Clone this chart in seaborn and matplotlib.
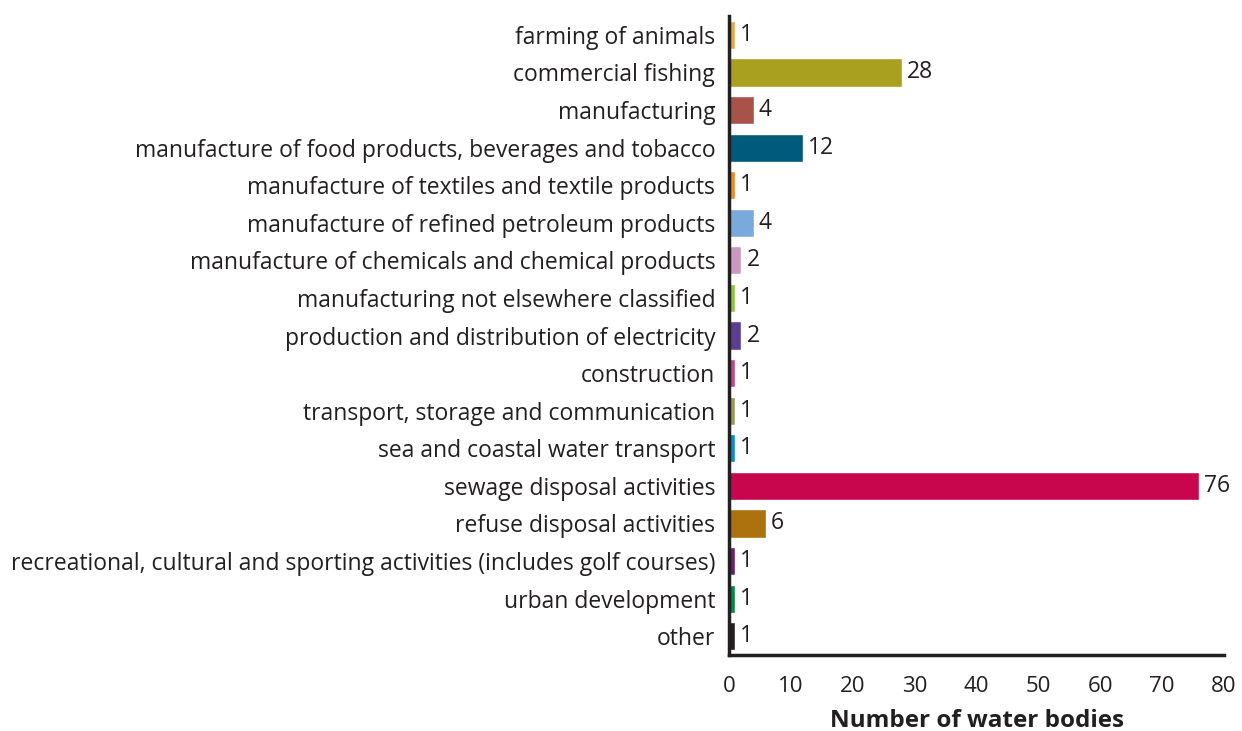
import pandas as pd
import matplotlib
matplotlib.use("Agg")
import matplotlib.pyplot as plt
import seaborn as sns

sns.set_theme(style="white")
plt.rcParams['font.family'] = ['Open Sans', 'DejaVu Sans']

# Pressure sources and number of water bodies affected
sources = [
    "farming of animals",
    "commercial fishing",
    "manufacturing",
    "manufacture of food products, beverages and tobacco",
    "manufacture of textiles and textile products",
    "manufacture of refined petroleum products",
    "manufacture of chemicals and chemical products",
    "manufacturing not elsewhere classified",
    "production and distribution of electricity",
    "construction",
    "transport, storage and communication",
    "sea and coastal water transport",
    "sewage disposal activities",
    "refuse disposal activities",
    "recreational, cultural and sporting activities (includes golf courses)",
    "urban development",
    "other",
]
counts = [1, 28, 4, 12, 1, 4, 2, 1, 2, 1, 1, 1, 76, 6, 1, 1, 1]
colors = [
    "#E0A84A", "#A8A01E", "#A8524A", "#005A7C", "#F08A1E", "#7AAADC",
    "#CC98C0", "#8CC63F", "#5A3E96", "#C0468C", "#9A9A5A", "#0A8CC8",
    "#C8064E", "#AC720E", "#6A2070", "#008A4A", "#231F20",
]
xticks = [0, 10, 20, 30, 40, 50, 60, 70, 80]

df = pd.DataFrame({"Source": sources, "Count": counts})

fig = plt.figure(figsize=(12.42, 7.31), dpi=100)
ax = fig.add_axes([0.587, 0.104, 0.3985, 0.874])
sns.barplot(data=df, x="Count", y="Source", hue="Source", palette=colors,
            legend=False, width=0.75, saturation=1, ax=ax)

for i, v in enumerate(counts):
    ax.text(v + 0.8, i, str(v), va="center", ha="left", fontsize=16.5, color="#231F20")

ax.set_xlim(0, 80)
ax.set_xticks(xticks)
ax.tick_params(axis="x", labelsize=16, colors="#231F20", length=0, pad=15)
ax.tick_params(axis="y", labelsize=16.5, colors="#231F20", length=0, pad=10)
ax.set_ylabel("")
ax.set_xlabel("Number of water bodies", fontsize=17.5, fontweight="bold",
              color="#231F20", labelpad=9)
for s in ["top", "right"]:
    ax.spines[s].set_visible(False)
for s in ["left", "bottom"]:
    ax.spines[s].set_color("#231F20")
    ax.spines[s].set_linewidth(2.5)

fig.savefig("out.png", dpi=100)
